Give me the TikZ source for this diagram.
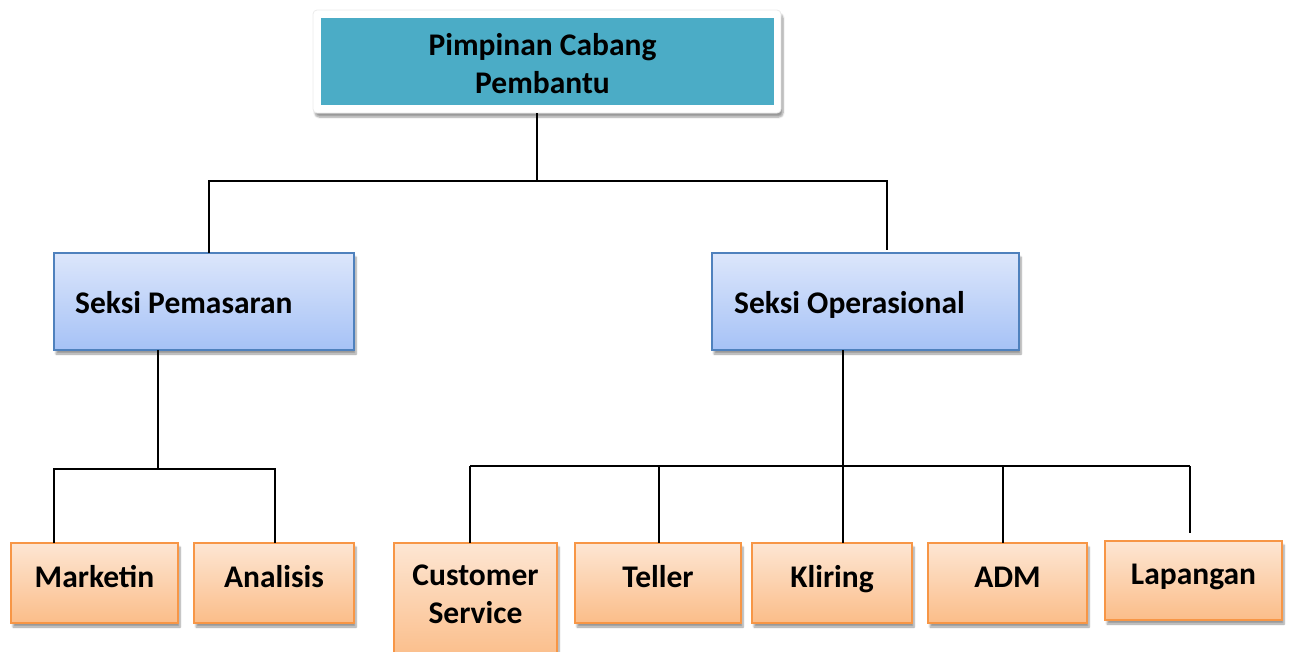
\documentclass[tikz,border=0pt]{standalone}
\usepackage{fontspec}
\setmainfont{Carlito}
\usetikzlibrary{shadows.blur}
\definecolor{teal1}{HTML}{4BACC6}
\definecolor{bluetop}{HTML}{DCE6FB}
\definecolor{bluebot}{HTML}{A6C2F6}
\definecolor{blueedge}{HTML}{4F81BD}
\definecolor{orgtop}{HTML}{FDE6D3}
\definecolor{orgbot}{HTML}{FBBD89}
\definecolor{orgedge}{HTML}{F79646}
\tikzset{
  conn/.style={line width=2.2pt, black},
  shad/.style={blur shadow={shadow xshift=2pt, shadow yshift=-4pt, shadow blur steps=6, shadow opacity=40}},
  secbox/.style={draw=blueedge, line width=1.5pt, top color=bluetop, bottom color=bluebot, shad},
  unitbox/.style={draw=orgedge, line width=1.5pt, top color=orgtop, bottom color=orgbot, shad},
  lbl/.style={font=\bfseries\fontsize{31.5}{38}\selectfont, align=center, inner sep=0pt, anchor=base},
}
\begin{document}
\begin{tikzpicture}[x=1pt,y=-1pt]
\useasboundingbox (0,0) rectangle (1290,651);
% top box
\node[draw=white!92!black, line width=0.8pt, fill=white, rounded corners=4pt, minimum width=468pt, minimum height=103pt, shad] (topframe) at (547,61.5) {};
\fill[teal1] (321,18) rectangle (774,105);
\node[lbl] (toptxt) at (542.5,93) {Pimpinan Cabang\\Pembantu};
% section boxes
\path[secbox] (54,253) rectangle (354,350);
\node[lbl, anchor=base west] (pem) at (75,313) {Seksi Pemasaran};
\path[secbox] (712,253) rectangle (1019,350);
\node[lbl, anchor=base west] (ops) at (734,313) {Seksi Operasional};
% unit boxes
\path[unitbox] (11,543) rectangle (178,623);
\node[lbl] (mkt) at (94.5,587) {Marketin};
\path[unitbox] (194,543) rectangle (354,623);
\node[lbl] (ana) at (274,587) {Analisis};
\path[unitbox] (394,543) rectangle (557,660);
\node[lbl] (cs) at (475.5,623) {Customer\\Service};
\path[unitbox] (575,543) rectangle (741,623);
\node[lbl] (tel) at (658,587) {Teller};
\path[unitbox] (752,543) rectangle (912,623);
\node[lbl] (kli) at (832,587) {Kliring};
\path[unitbox] (928,543) rectangle (1087,623);
\node[lbl] (adm) at (1007.5,587) {ADM};
\path[unitbox] (1105,541) rectangle (1282,620);
\node[lbl] (lap) at (1193.5,584) {Lapangan};
% coordinates
\coordinate (a0) at (537,113);
\coordinate (a1) at (537,181);
\coordinate (hl) at (209,181);
\coordinate (hr) at (887,181);
\coordinate (pl) at (209,253);
\coordinate (pr) at (887,250);
\coordinate (b0) at (158,350);
\coordinate (b1) at (158,469);
\coordinate (bl) at (54,469);
\coordinate (br) at (275,469);
\coordinate (bl2) at (54,543);
\coordinate (br2) at (275,543);
\coordinate (c0) at (843,350);
\coordinate (c1) at (843,543);
\coordinate (cl) at (470,466);
\coordinate (cr) at (1190,466);
\coordinate (c2) at (659,466);
\coordinate (c3) at (1003,466);
\coordinate (d1) at (470,543);
\coordinate (d2) at (659,543);
\coordinate (d3) at (1003,543);
\coordinate (d4) at (1190,533);
\draw[conn] (a0) -- (a1);
\draw[conn] (pl) -- (hl) -- (hr) -- (pr);
\draw[conn] (b0) -- (b1);
\draw[conn] (bl2) -- (bl) -- (br) -- (br2);
\draw[conn] (c0) -- (c1);
\draw[conn] (cl) -- (cr);
\draw[conn] (cl) -- (d1);
\draw[conn] (c2) -- (d2);
\draw[conn] (c3) -- (d3);
\draw[conn] (cr) -- (d4);
\end{tikzpicture}
\end{document}
